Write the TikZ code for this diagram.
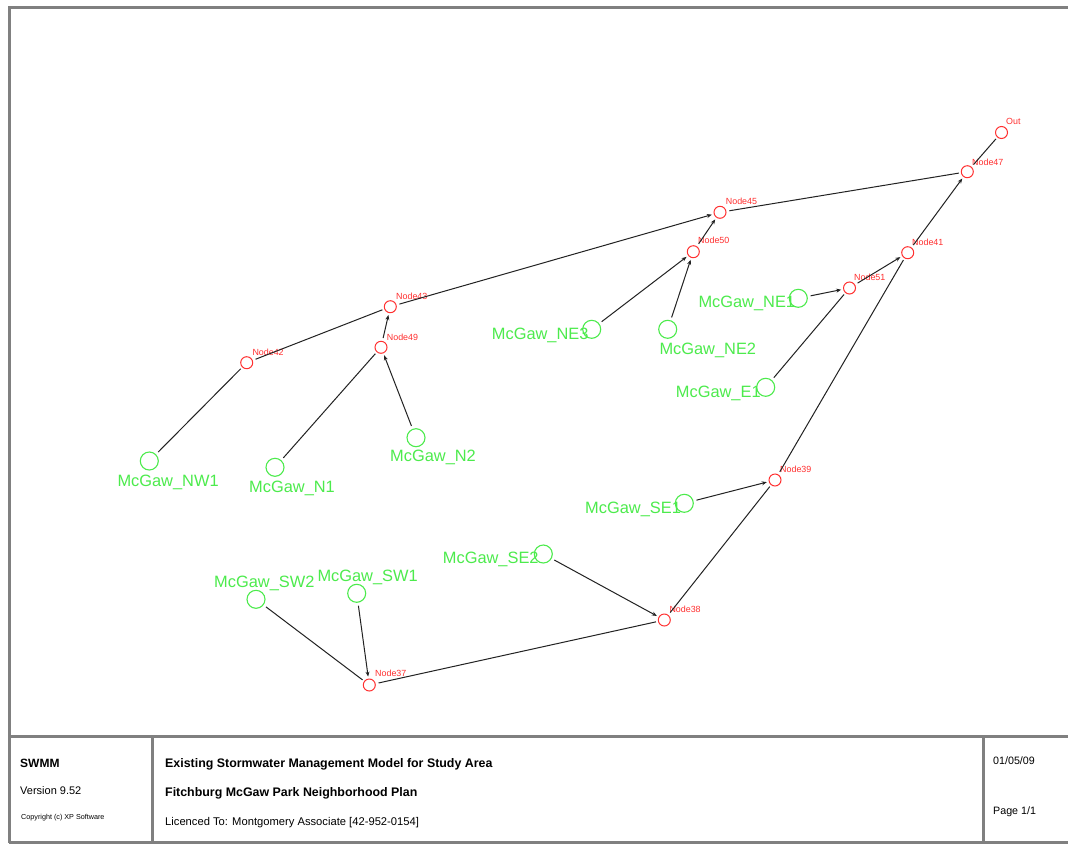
\documentclass[tikz,border=0pt]{standalone}
\usepackage{fontspec}
\setmainfont{Liberation Sans}
\usetikzlibrary{arrows.meta}
\definecolor{jred}{HTML}{FF3030}
\definecolor{sgreen}{HTML}{4CEB4C}
\definecolor{framegray}{HTML}{808080}
\definecolor{linkgray}{HTML}{222222}
\tikzset{
  jn/.style={circle, draw=jred, line width=1pt, minimum size=12pt, inner sep=0pt},
  sc/.style={circle, draw=sgreen, line width=1.1pt, minimum size=18pt, inner sep=0pt},
  jlab/.style={text=jred, font=\fontsize{8.9}{9}\selectfont, anchor=base west, inner sep=0pt},
  slab/.style={text=sgreen, font=\fontsize{16.4}{18}\selectfont, anchor=base west, inner sep=0pt},
  conn/.style={draw=linkgray, line width=1pt, shorten <=3pt, shorten >=2pt},
  flow/.style={conn, -{Stealth[length=5pt,width=4pt]}},
  frameline/.style={draw=framegray, line width=3pt},
  tb/.style={anchor=base west, inner sep=0pt, text=black}
}
\begin{document}
\begin{tikzpicture}[x=1pt,y=-1pt]
\useasboundingbox (0,0) rectangle (1068,844);
\fill[white] (0,0) rectangle (1068,844);
\begin{scope}
\clip (0,0) rectangle (1068,844);
\draw[frameline] (9,7.5) -- (1090,7.5);
\draw[frameline] (9,6) -- (9,842.5);
\draw[frameline] (9,842.5) -- (1090,842.5);
\draw[frameline] (9,736.5) -- (1090,736.5);
\draw[frameline] (152.5,736.5) -- (152.5,842.5);
\draw[frameline] (983,736.5) -- (983,842.5);
\end{scope}

% title block
\node[tb, font=\bfseries\fontsize{12}{12}\selectfont] (tswmm) at (20,767) {SWMM};
\node[tb, font=\fontsize{11}{12}\selectfont] (tver) at (20,794) {Version 9.52};
\node[tb, font=\fontsize{7.2}{8}\selectfont] (tcopy) at (21,819.5) {Copyright (c) XP Software};
\node[tb, font=\bfseries\fontsize{12.4}{12}\selectfont] (ttitle) at (165,767) {Existing Stormwater Management Model for Study Area};
\node[tb, font=\bfseries\fontsize{12.4}{12}\selectfont] (tplan) at (165,796) {Fitchburg McGaw Park Neighborhood Plan};
\node[tb, font=\fontsize{11.2}{12}\selectfont] (tlic) at (165,825) {Licenced To: Montgomery Associate [42-952-0154]};
\node[tb, font=\fontsize{10.7}{12}\selectfont] (tdate) at (993,764.3) {01/05/09};
\node[tb, font=\fontsize{10.7}{12}\selectfont] (tpage) at (993,814.3) {Page 1/1};

% junctions
\node[jn] (out) at (1001.5,132.5) {};
\node[jn] (n47) at (967.3,171.7) {};
\node[jn] (n45) at (720,212.3) {};
\node[jn] (n50) at (693.3,251.7) {};
\node[jn] (n41) at (907.7,252.7) {};
\node[jn] (n51) at (849.5,288) {};
\node[jn] (n43) at (390.3,306.7) {};
\node[jn] (n49) at (381,347.3) {};
\node[jn] (n42) at (246.7,362.7) {};
\node[jn] (n39) at (775,480) {};
\node[jn] (n38) at (664.3,620) {};
\node[jn] (n37) at (369.3,685) {};

\node[jlab] (lout) at (1006,124) {Out};
\node[jlab] (l47) at (972,165) {Node47};
\node[jlab] (l45) at (725.7,204) {Node45};
\node[jlab] (l50) at (698,243.7) {Node50};
\node[jlab] (l41) at (912,245) {Node41};
\node[jlab] (l51) at (854,280) {Node51};
\node[jlab] (l43) at (396,299) {Node43};
\node[jlab] (l49) at (386.7,340) {Node49};
\node[jlab] (l42) at (252.3,355.7) {Node42};
\node[jlab] (l39) at (780,472.3) {Node39};
\node[jlab] (l38) at (669.3,612.3) {Node38};
\node[jlab] (l37) at (375,676.7) {Node37};

% subcatchments
\node[sc] (nw1) at (149.3,461) {};
\node[sc] (sn1) at (275,467.3) {};
\node[sc] (sn2) at (416,437.7) {};
\node[sc] (ne3) at (591.7,329.3) {};
\node[sc] (ne2) at (667.7,329.3) {};
\node[sc] (ne1) at (798.3,298.3) {};
\node[sc] (e1) at (765.7,387.3) {};
\node[sc] (se1) at (684.3,503.3) {};
\node[sc] (se2) at (543.3,554) {};
\node[sc] (sw2) at (256,599.3) {};
\node[sc] (sw1) at (356.7,593.3) {};

\node[slab] (lnw1) at (117.3,486.5) {McGaw\_NW1};
\node[slab] (lsn1) at (249,492) {McGaw\_N1};
\node[slab] (lsn2) at (390,461.7) {McGaw\_N2};
\node[slab] (lne3) at (491.7,339.3) {McGaw\_NE3};
\node[slab] (lne2) at (659.3,354.3) {McGaw\_NE2};
\node[slab] (lne1) at (698.3,307.3) {McGaw\_NE1};
\node[slab] (le1) at (675.7,397.3) {McGaw\_E1};
\node[slab] (lse1) at (585,513.3) {McGaw\_SE1};
\node[slab] (lse2) at (442.7,563.3) {McGaw\_SE2};
\node[slab] (lsw2) at (214,587.3) {McGaw\_SW2};
\node[slab] (lsw1) at (317.3,581.7) {McGaw\_SW1};

% links
\draw[conn] (nw1) -- (n42);
\draw[conn] (n42) -- (n43);
\draw[conn] (sn1) -- (n49);
\draw[flow] (sn2) -- (n49);
\draw[flow] (n49) -- (n43);
\draw[flow] (n43) -- (n45);
\draw[flow] (ne3) -- (n50);
\draw[flow] (ne2) -- (n50);
\draw[flow] (n50) -- (n45);
\draw[conn] (n45) -- (n47);
\draw[flow] (n41) -- (n47);
\draw[conn] (n47) -- (out);
\draw[flow] (ne1) -- (n51);
\draw[conn] (e1) -- (n51);
\draw[flow] (n51) -- (n41);
\draw[conn] (n39) -- (n41);
\draw[flow] (se1) -- (n39);
\draw[conn] (n38) -- (n39);
\draw[flow] (se2) -- (n38);
\draw[conn] (n37) -- (n38);
\draw[flow] (sw1) -- (n37);
\draw[conn] (sw2) -- (n37);
\end{tikzpicture}
\end{document}
